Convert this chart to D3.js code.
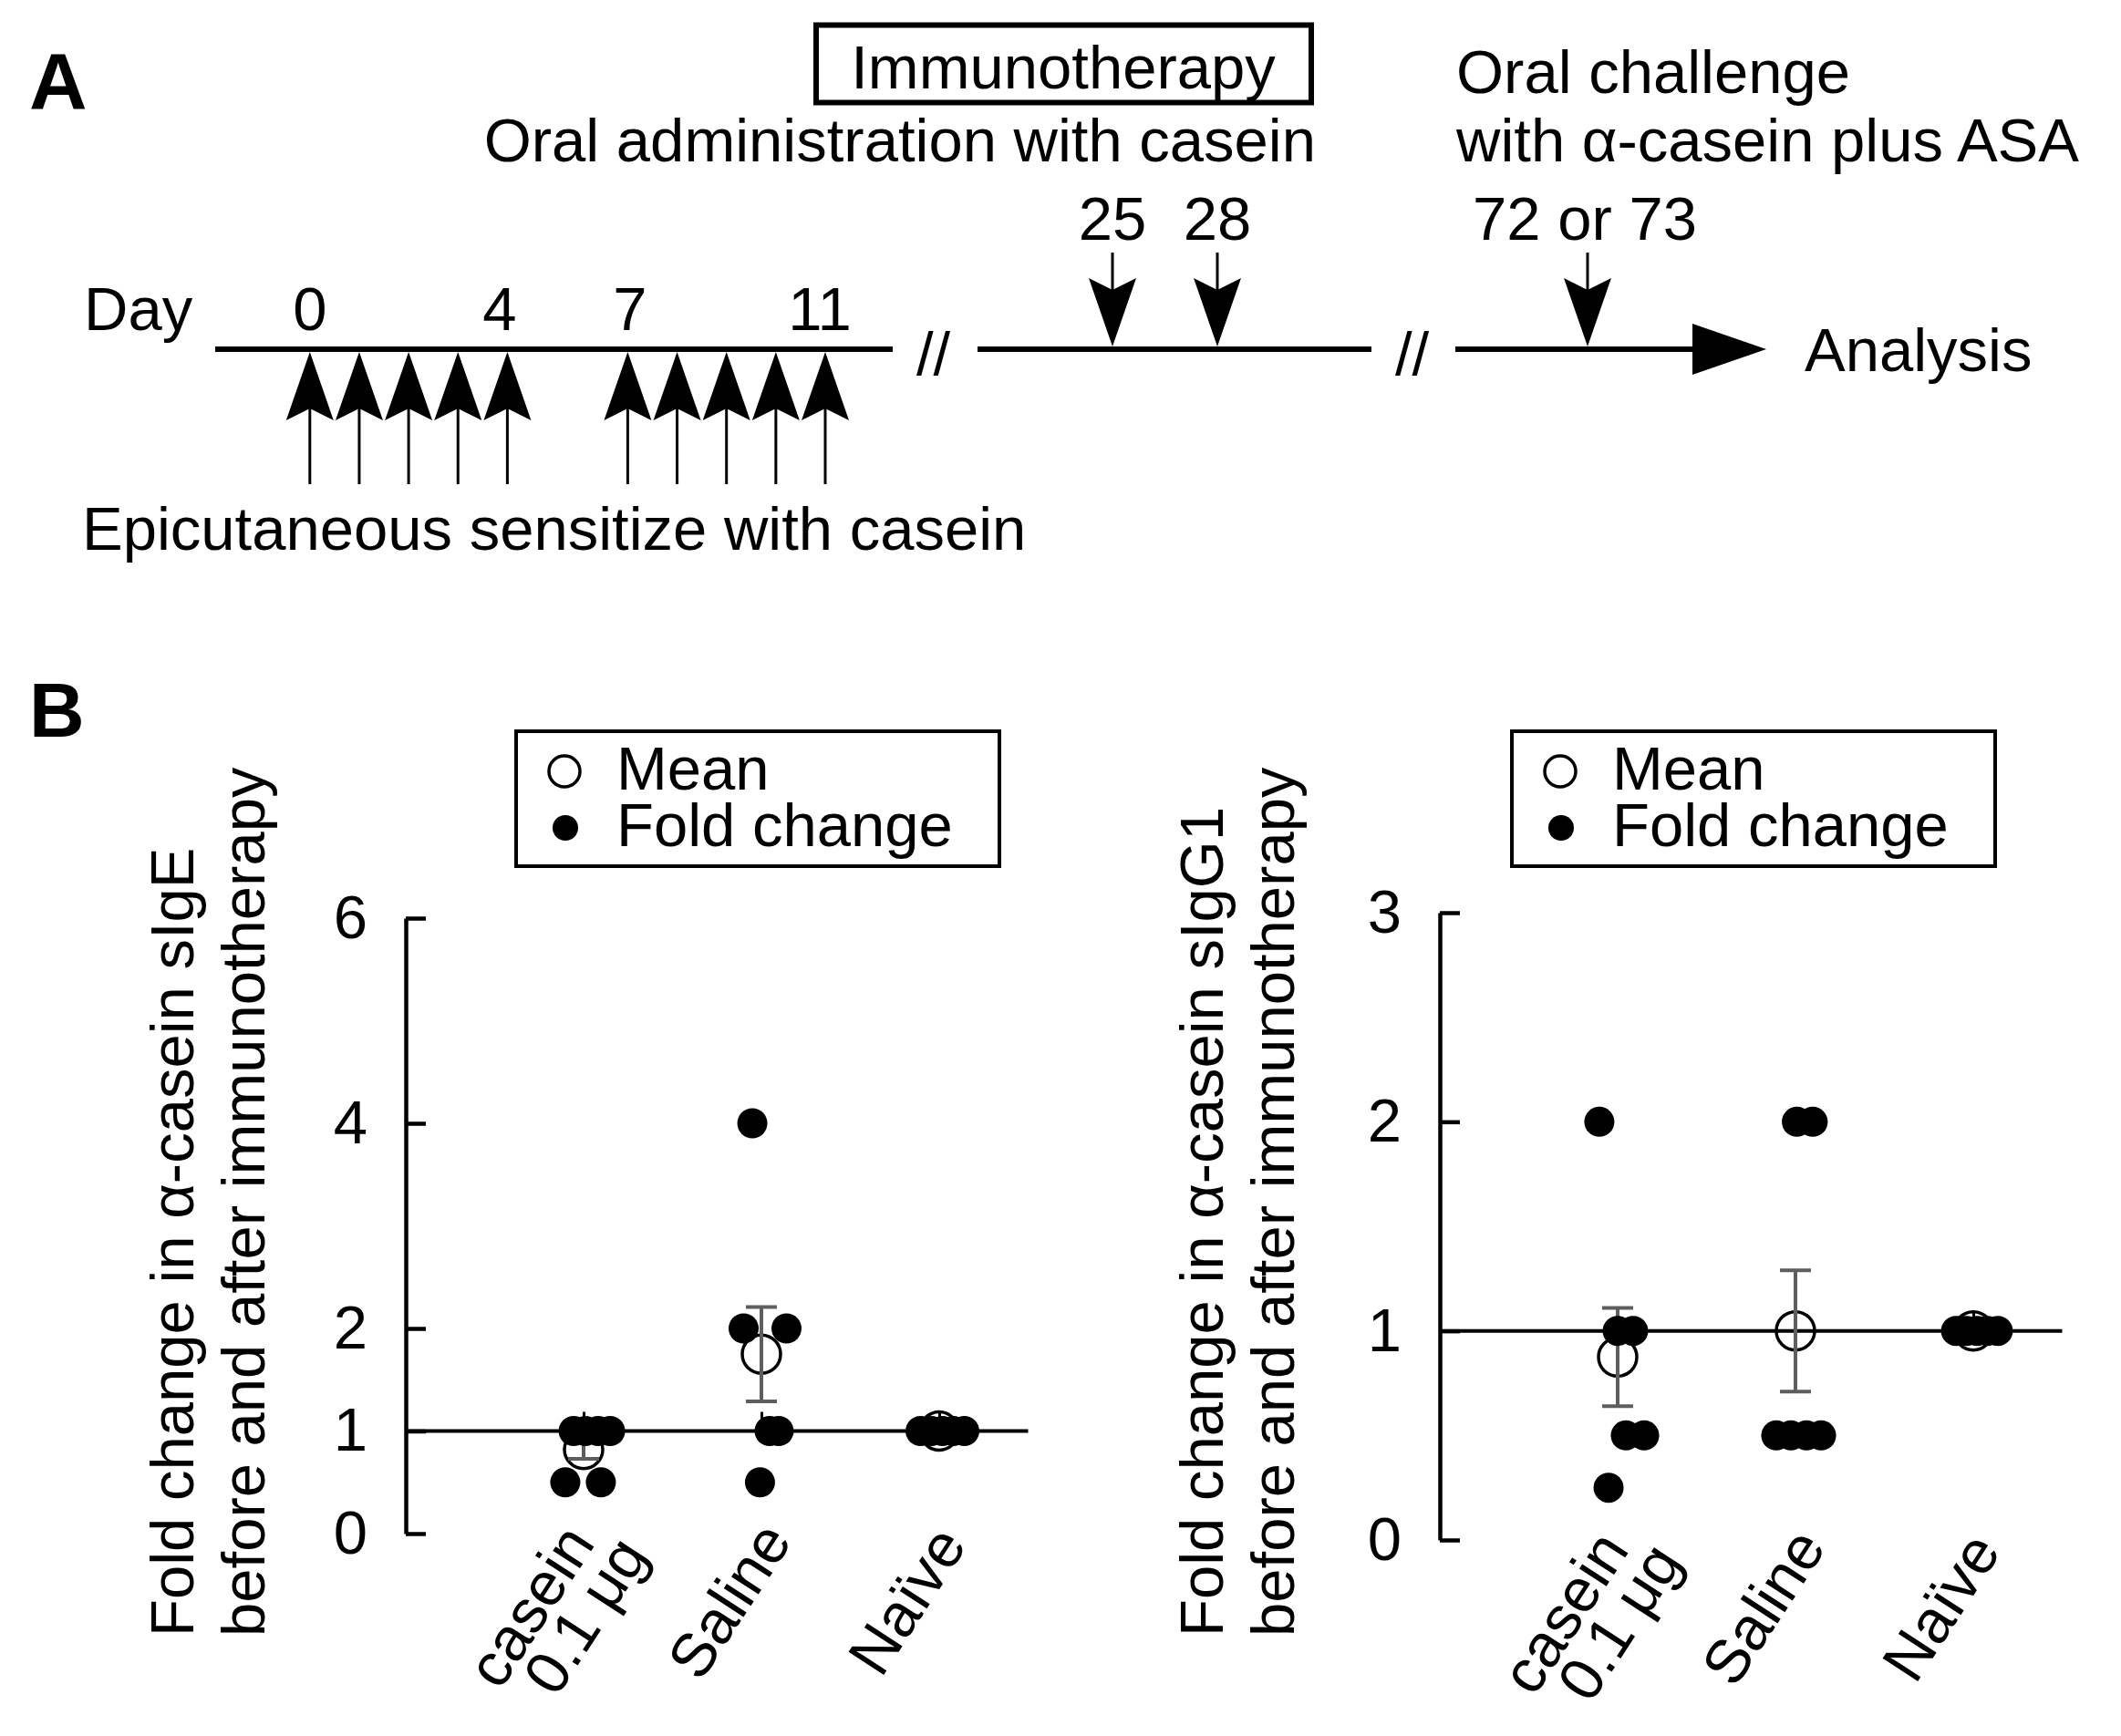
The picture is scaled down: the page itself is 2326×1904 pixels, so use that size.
<!DOCTYPE html>
<html>
<head>
<meta charset="utf-8">
<script src="https://cdn.jsdelivr.net/npm/d3@7"></script>
<style>
  html, body { margin: 0; padding: 0; background: #fff; }
  svg { display: block; }
  text { font-family: "Liberation Sans", Arial, Helvetica, sans-serif; fill: #000; }
</style>
</head>
<body>
<svg id="fig" width="2326" height="1904"></svg>
<script>
// ---------------- DATA ----------------
// Panel A timeline
const sensitizeDays = [0, 1, 2, 3, 4, 7, 8, 9, 10, 11];
const sensitizeDayLabels = [0, 4, 7, 11];
const immunoDays = [25, 28];
const challengeLabel = "72 or 73";

// Panel B categories
const categories = ["casein 0.1 μg", "Saline", "Naïve"];
const categoryLines = [["casein", "0.1 μg"], ["Saline"], ["Naïve"]];
const legendLabels = ["Mean", "Fold change"];

// sIgE fold change (individual animals), horizontal jitter in category steps
const igeValues = [[1, 1, 1, 1, 0.5, 0.5], [4, 2, 2, 1, 1, 0.5], [1, 1, 1, 1, 1]];
const igeJitter = [[-0.056, 0.010, 0.082, 0.149, -0.103, 0.097],
                   [-0.051, -0.100, 0.141, 0.046, 0.097, -0.008],
                   [-0.105, -0.044, 0.018, 0.079, 0.141]];
const igeMean = [0.82, 1.75, 1.0];
const igeErr = [0.09, 0.46, 0];
const igeTicks = [0, 1, 2, 4, 6];

// sIgG1 fold change
const igg1Values = [[2, 1, 1, 0.5, 0.5, 0.25], [2, 2, 0.5, 0.5, 0.5, 0.5], [1, 1, 1, 1, 1]];
const igg1Jitter = [[-0.103, 0.000, 0.087, 0.046, 0.149, -0.051],
                    [0.008, 0.097, -0.108, -0.026, 0.062, 0.144],
                    [-0.097, -0.038, 0.021, 0.079, 0.138]];
const igg1Mean = [0.875, 1.0, 1.0];
const igg1Err = [0.235, 0.29, 0];
const igg1Ticks = [0, 1, 2, 3];

// ---------------- DRAWING ----------------
const svg = d3.select("#fig");
const FS = 67;

svg.append("rect").attr("width", 2326).attr("height", 1904).attr("fill", "#fff");

// ===== Panel A =====
const A = svg.append("g");
A.append("text").attr("x", 32).attr("y", 119).attr("font-size", 88).attr("font-weight", "bold").text("A");

// Immunotherapy box
A.append("rect").attr("x", 895).attr("y", 27.5).attr("width", 543).attr("height", 85)
  .attr("fill", "none").attr("stroke", "#000").attr("stroke-width", 6);
A.append("text").attr("x", 1166).attr("y", 97).attr("font-size", FS).attr("text-anchor", "middle").text("Immunotherapy");
A.append("text").attr("x", 1443).attr("y", 177).attr("font-size", FS).attr("text-anchor", "end").text("Oral administration with casein");
A.append("text").attr("x", 1597).attr("y", 102).attr("font-size", FS).text("Oral challenge");
A.append("text").attr("x", 1597).attr("y", 177).attr("font-size", FS).text("with α-casein plus ASA");

const lineY = 383;
// timeline scales
const xSens = d3.scaleLinear().domain([0, 4, 7, 11]).range([339.8, 556.4, 688.4, 905]);
const xSensLabel = d3.scaleLinear().domain([0, 4, 7, 11]).range([339.8, 548, 691, 899]);
const xImmuno = d3.scaleLinear().domain([25, 28]).range([1220, 1335]);
const xChallenge = 1741;

// segments
A.append("line").attr("x1", 236).attr("x2", 979).attr("y1", lineY).attr("y2", lineY).attr("stroke", "#000").attr("stroke-width", 6);
A.append("line").attr("x1", 1072).attr("x2", 1504).attr("y1", lineY).attr("y2", lineY).attr("stroke", "#000").attr("stroke-width", 6);
A.append("line").attr("x1", 1596).attr("x2", 1860).attr("y1", lineY).attr("y2", lineY).attr("stroke", "#000").attr("stroke-width", 6);
A.append("path").attr("d", `M1856,${lineY - 28} L1937,${lineY} L1856,${lineY + 28} Z`).attr("fill", "#000");
A.append("text").attr("x", 1005).attr("y", 411).attr("font-size", FS).text("//");
A.append("text").attr("x", 1530).attr("y", 411).attr("font-size", FS).text("//");
A.append("text").attr("x", 1979).attr("y", 407).attr("font-size", FS).text("Analysis");

A.append("text").attr("x", 92).attr("y", 362).attr("font-size", FS).text("Day");
A.selectAll(".dlab").data(sensitizeDayLabels).enter().append("text")
  .attr("x", d => xSensLabel(d)).attr("y", 362).attr("font-size", FS).attr("text-anchor", "middle").text(d => d);

// up arrows (sensitization)
const hw = 26, hl = 75;
const up = A.selectAll(".up").data(sensitizeDays).enter().append("g");
up.append("line").attr("x1", d => xSens(d)).attr("x2", d => xSens(d)).attr("y1", lineY + 60).attr("y2", 531)
  .attr("stroke", "#000").attr("stroke-width", 3);
up.append("path").attr("fill", "#000").attr("d", d => {
  const x = xSens(d), t = lineY + 3;
  return `M${x},${t} L${x + hw},${t + hl} L${x},${t + hl - 13} L${x - hw},${t + hl} Z`;
});
A.append("text").attr("x", 90).attr("y", 603).attr("font-size", FS).text("Epicutaneous sensitize with casein");

// down arrows
function downArrow(x) {
  const t = lineY - 3;
  A.append("line").attr("x1", x).attr("x2", x).attr("y1", 277).attr("y2", t - 60).attr("stroke", "#000").attr("stroke-width", 3);
  A.append("path").attr("fill", "#000")
    .attr("d", `M${x},${t} L${x + hw},${t - hl} L${x},${t - hl + 13} L${x - hw},${t - hl} Z`);
}
immunoDays.forEach(d => {
  downArrow(xImmuno(d));
  A.append("text").attr("x", xImmuno(d)).attr("y", 263).attr("font-size", FS).attr("text-anchor", "middle").text(d);
});
downArrow(xChallenge);
A.append("text").attr("x", xChallenge - 3).attr("y", 263).attr("font-size", FS).attr("text-anchor", "middle").text(challengeLabel);

// ===== Panel B =====
svg.append("text").attr("x", 32).attr("y", 808).attr("font-size", 84).attr("font-weight", "bold").text("B");

function drawChart(cfg) {
  const g = svg.append("g");
  const step = 195;
  const y = d3.scaleLinear().domain([0, cfg.max]).range([cfg.y0, cfg.yTop]);
  const x = d3.scalePoint().domain(categories).range([cfg.x0 + step, cfg.x0 + 3 * step]);

  // y axis (ticks inward)
  const yAxis = g.append("g").attr("transform", `translate(${cfg.x0},0)`)
    .call(d3.axisLeft(y).tickValues(cfg.ticks).tickSizeInner(-22).tickSizeOuter(0).tickPadding(42).tickFormat(d3.format("d")));
  yAxis.select(".domain").attr("stroke-width", 4.5);
  yAxis.selectAll(".tick line").attr("stroke-width", 4.5);
  yAxis.selectAll(".tick text").attr("font-size", FS).attr("font-family", '"Liberation Sans", Arial, sans-serif').attr("fill", "#000");

  // horizontal axis at y = 1
  g.append("line").attr("x1", cfg.x0).attr("x2", cfg.x0 + 3.5 * step).attr("y1", y(1)).attr("y2", y(1))
    .attr("stroke", "#000").attr("stroke-width", 4);
  const xAxis = g.append("g").attr("transform", `translate(0,${y(1)})`)
    .call(d3.axisBottom(x).tickSizeInner(-21).tickSizeOuter(0).tickFormat(""));
  xAxis.select(".domain").remove();
  xAxis.selectAll(".tick line").attr("stroke-width", 3);

  // category labels (rotated)
  categories.forEach((c, i) => {
    const lines = categoryLines[i];
    const cx = x(c);
    if (lines.length === 1) {
      g.append("text").attr("transform", `translate(${cx - 16},${cfg.y0 + 86}) rotate(-57)`)
        .attr("font-size", FS).attr("text-anchor", "middle").text(lines[0]);
    } else {
      const lg = g.append("g").attr("transform", `translate(${cx - 39},${cfg.y0 + 92}) rotate(-57)`);
      lg.append("text").attr("x", 0).attr("y", 0).attr("font-size", FS).attr("text-anchor", "middle").text(lines[0]);
      lg.append("text").attr("x", 24).attr("y", 56).attr("font-size", FS).attr("text-anchor", "middle").text(lines[1]);
    }
  });

  // mean circles
  g.selectAll(".mean").data(categories).enter().append("circle")
    .attr("cx", c => x(c)).attr("cy", (c, i) => y(cfg.mean[i])).attr("r", 21)
    .attr("fill", "none").attr("stroke", "#000").attr("stroke-width", 3.5);

  // error bars
  categories.forEach((c, i) => {
    if (cfg.err[i] <= 0) return;
    const cx = x(c), lo = y(cfg.mean[i] - cfg.err[i]), hi = y(cfg.mean[i] + cfg.err[i]);
    const eb = g.append("g").attr("stroke", "#5e5e5e").attr("stroke-width", 4);
    eb.append("line").attr("x1", cx).attr("x2", cx).attr("y1", lo).attr("y2", hi);
    eb.append("line").attr("x1", cx - 17).attr("x2", cx + 17).attr("y1", lo).attr("y2", lo);
    eb.append("line").attr("x1", cx - 17).attr("x2", cx + 17).attr("y1", hi).attr("y2", hi);
  });

  // individual dots
  const pts = [];
  categories.forEach((c, i) => cfg.values[i].forEach((v, k) => pts.push({ c, v, j: cfg.jitter[i][k] })));
  g.selectAll(".dot").data(pts).enter().append("circle")
    .attr("cx", d => x(d.c) + d.j * step).attr("cy", d => y(d.v)).attr("r", 16.5).attr("fill", "#000");

  // y axis title
  const t = g.append("g").attr("transform", `translate(${cfg.titleX},1795) rotate(-90)`);
  t.append("text").attr("x", 0).attr("y", 0).attr("font-size", FS).text(cfg.title[0]);
  t.append("text").attr("x", 0).attr("y", 78).attr("font-size", FS).text(cfg.title[1]);

  // legend
  const L = cfg.legend;
  g.append("rect").attr("x", L.x + 2).attr("y", 802).attr("width", 530).attr("height", 148)
    .attr("fill", "#fff").attr("stroke", "#000").attr("stroke-width", 4);
  g.append("circle").attr("cx", L.x + 55).attr("cy", 846).attr("r", 17).attr("fill", "none").attr("stroke", "#000").attr("stroke-width", 3.5);
  g.append("circle").attr("cx", L.x + 56).attr("cy", 908).attr("r", 14).attr("fill", "#000");
  const lt = g.append("text").attr("font-size", FS);
  legendLabels.forEach((s, k) => {
    lt.append("tspan").attr("x", L.x + 112).attr("y", 866 + k * 62).text(s);
  });
}

drawChart({
  x0: 445, y0: 1682, yTop: 1007, max: 6, ticks: igeTicks,
  values: igeValues, jitter: igeJitter, mean: igeMean, err: igeErr,
  title: ["Fold change in α-casein sIgE", "before and after immunotherapy"], titleX: 212,
  legend: { x: 564 }
});
drawChart({
  x0: 1579, y0: 1689, yTop: 1001, max: 3, ticks: igg1Ticks,
  values: igg1Values, jitter: igg1Jitter, mean: igg1Mean, err: igg1Err,
  title: ["Fold change in α-casein sIgG1", "before and after immunotherapy"], titleX: 1341,
  legend: { x: 1656 }
});
</script>
</body>
</html>
